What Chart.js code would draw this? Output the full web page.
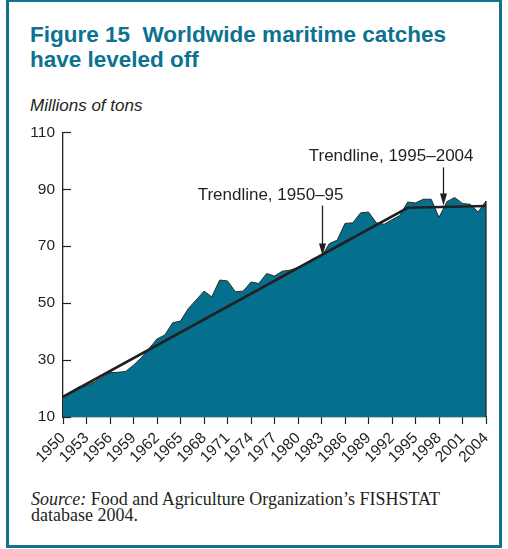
<!DOCTYPE html>
<html>
<head>
<meta charset="utf-8">
<script src="https://cdn.jsdelivr.net/npm/chart.js@4.4.0/dist/chart.umd.min.js"></script>
<style>
  body { margin: 0; width: 508px; height: 549px; background: #fff; position: relative; overflow: hidden; }
  #frame { position: absolute; left: 6px; top: -1px; width: 490px; height: 543px; border: 3px solid #13728f; }
  #title { position: absolute; left: 30px; top: 22px; font: bold 22.5px "Liberation Sans", Arial, sans-serif; line-height: 25px; color: #0d7291; white-space: pre; }
  #unit { position: absolute; left: 30px; top: 97px; font: italic 17px "Liberation Sans", Arial, sans-serif; line-height: 17px; color: #231f20; }
  #source { position: absolute; left: 31px; top: 491px; font: 18px "Liberation Serif", "Times New Roman", serif; line-height: 16px; color: #231f20; }
  #chart { position: absolute; left: 0; top: 115px; }
</style>
</head>
<body>
<div id="frame"></div>
<div id="title">Figure 15  Worldwide maritime catches
have leveled off</div>
<div id="unit">Millions of tons</div>
<canvas id="chart" width="508" height="365"></canvas>
<div id="source"><i>Source:</i> Food and Agriculture Organization’s FISHSTAT<br>database 2004.</div>

<script>
const years = [1950, 1951, 1952, 1953, 1954, 1955, 1956, 1957, 1958, 1959,
  1960, 1961, 1962, 1963, 1964, 1965, 1966, 1967, 1968, 1969,
  1970, 1971, 1972, 1973, 1974, 1975, 1976, 1977, 1978, 1979,
  1980, 1981, 1982, 1983, 1984, 1985, 1986, 1987, 1988, 1989,
  1990, 1991, 1992, 1993, 1994, 1995, 1996, 1997, 1998, 1999,
  2000, 2001, 2002, 2003, 2004];
const catches = [17.0, 18.8, 20.5, 21.0, 22.3, 23.9, 25.6, 25.7, 26.0, 28.2,
  30.8, 34.1, 37.4, 38.8, 43.1, 43.7, 48.1, 51.1, 54.2, 52.2,
  58.1, 57.8, 54.0, 54.2, 57.4, 56.9, 60.4, 59.5, 61.2, 61.6,
  62.5, 63.9, 65.7, 66.3, 70.9, 72.1, 78.0, 78.2, 81.7, 82.0,
  78.2, 77.7, 79.3, 80.8, 85.5, 85.2, 86.5, 86.5, 80.1, 85.6,
  87.1, 85.0, 84.7, 82.0, 85.9];

// trendline break points
const trendYears = [1950, 1994, 2004];
const trendValues = [17.1, 83.5, 84.1];

// arrow labels
const noteYears = [1983, 1998.5];
const noteValues = [66.0, 83.6];
const noteTexts = ['Trendline, 1950–95', 'Trendline, 1995–2004'];

const ink = '#231f20';
const teal = '#04708e';

const notesPlugin = {
  id: 'notes',
  afterDraw(chart) {
    const ctx = chart.ctx;
    const xs = chart.scales.x;
    const ys = chart.scales.y;
    ctx.save();
    // inward y ticks
    ctx.strokeStyle = ink;
    ctx.lineWidth = 1.2;
    ys.ticks.forEach(t => {
      const py = Math.round(ys.getPixelForValue(t.value)) + 0.5;
      ctx.beginPath();
      ctx.moveTo(xs.left, py);
      ctx.lineTo(xs.left + 8, py);
      ctx.stroke();
    });
    // right edge of the area
    const lastX = xs.getPixelForValue(years[years.length - 1]);
    ctx.beginPath();
    ctx.moveTo(lastX, ys.getPixelForValue(catches[catches.length - 1]));
    ctx.lineTo(lastX, ys.bottom);
    ctx.stroke();

    // arrows + labels
    const arrowLen = [50, 38];
    const textDx = [21, 30];
    ctx.font = '17px "Liberation Sans", Arial, sans-serif';
    ctx.textAlign = 'right';
    ctx.textBaseline = 'alphabetic';
    noteYears.forEach((yr, i) => {
      const ax = Math.round(xs.getPixelForValue(yr)) + 0.5;
      const tip = ys.getPixelForValue(noteValues[i]) - 2;
      const top = tip - arrowLen[i];
      ctx.strokeStyle = ink;
      ctx.lineWidth = 1.3;
      ctx.beginPath();
      ctx.moveTo(ax, top);
      ctx.lineTo(ax, tip - 8);
      ctx.stroke();
      ctx.fillStyle = ink;
      ctx.beginPath();
      ctx.moveTo(ax - 3.5, tip - 12);
      ctx.lineTo(ax + 3.5, tip - 12);
      ctx.lineTo(ax, tip);
      ctx.closePath();
      ctx.fill();
      ctx.fillText(noteTexts[i], ax + textDx[i], top - 6);
    });
    ctx.restore();
  }
};

new Chart(document.getElementById('chart').getContext('2d'), {
  type: 'line',
  data: {
    datasets: [{
      label: 'Trendline',
      data: trendYears.map((yr, i) => ({ x: yr, y: trendValues[i] })),
      borderColor: ink,
      borderWidth: 2.6,
      pointRadius: 0,
      fill: false,
      tension: 0
    }, {
      label: 'Worldwide maritime catches',
      data: years.map((yr, i) => ({ x: yr, y: catches[i] })),
      borderColor: '#2b2b2b',
      borderWidth: 1,
      backgroundColor: teal,
      pointRadius: 0,
      fill: 'start',
      tension: 0
    }]
  },
  options: {
    responsive: false,
    animation: false,
    layout: { padding: { top: 6, right: 22, left: 0, bottom: 0 } },
    plugins: {
      legend: { display: false },
      tooltip: { enabled: false }
    },
    scales: {
      x: {
        type: 'linear',
        min: 1950,
        max: 2004,
        afterFit(scale) { scale.height = 63; },
        ticks: {
          stepSize: 3,
          autoSkip: false,
          maxRotation: 45,
          minRotation: 45,
          padding: 5,
          color: ink,
          font: { family: '"Liberation Sans", Arial, sans-serif', size: 15.5 },
          callback: v => String(v)
        },
        grid: { drawOnChartArea: false, drawTicks: true, tickLength: 7, tickColor: ink, tickWidth: 1.2 },
        border: { color: ink, width: 1.3 }
      },
      y: {
        min: 10,
        max: 110,
        afterFit(scale) { scale.width = 63; },
        ticks: {
          stepSize: 20,
          padding: 8,
          color: ink,
          font: { family: '"Liberation Sans", Arial, sans-serif', size: 15.5 }
        },
        grid: { drawOnChartArea: false, drawTicks: false },
        border: { color: ink, width: 1.3 }
      }
    }
  },
  plugins: [notesPlugin]
});
</script>
</body>
</html>
